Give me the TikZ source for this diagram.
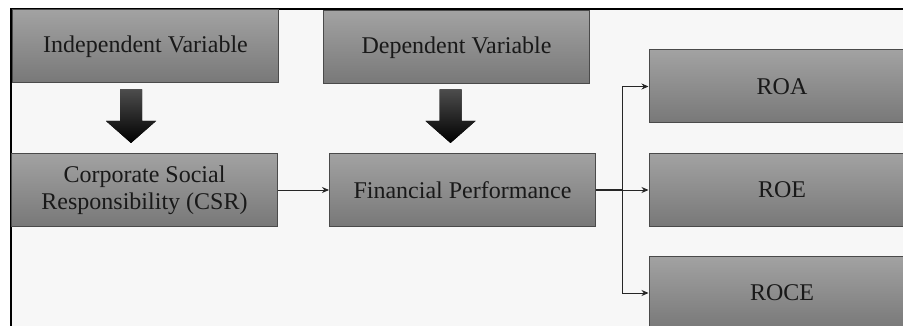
\documentclass[tikz,border=0pt]{standalone}
\usepackage{fontspec}
\setmainfont{Liberation Serif}
\usepackage{xcolor}
\usepackage{tikz}
\usetikzlibrary{arrows.meta,calc}

\definecolor{boxtop}{HTML}{A2A2A2}
\definecolor{boxbot}{HTML}{787878}
\definecolor{boxline}{HTML}{4A4A4A}
\definecolor{pagebg}{HTML}{F7F7F7}

% block arrow: #1 top of the shaft, #2 tip
\newcommand{\bigdown}[2]{%
  \fill[bigarrow] ([xshift=-11pt]#1) -- ([xshift=11pt]#1)
    -- ([xshift=11pt,yshift=22pt]#2) -- ([xshift=25pt,yshift=22pt]#2)
    -- (#2) -- ([xshift=-25pt,yshift=22pt]#2)
    -- ([xshift=-11pt,yshift=22pt]#2) -- cycle;}

\begin{document}
\begin{tikzpicture}[x=1pt,y=-1pt,
		varbox/.style={draw=boxline, line width=1pt, top color=boxtop, bottom color=boxbot,
			minimum width=266pt, minimum height=73pt, inner sep=0pt, align=center,
			font=\fontsize{24}{27}\selectfont, text=black!90},
		link/.style={-{Stealth[length=7pt,width=6pt]}, line width=0.9pt, draw=black!85},
		bigarrow/.style={top color=black!70, bottom color=black}]
		\useasboundingbox (0,0) rectangle (903,326);
		\clip (0,0) rectangle (903,326);
		\fill[white] (0,0) rectangle (903,326);
		\fill[pagebg] (11,9) rectangle (903,326);
		\draw[line width=1.5pt] (11,326) -- (11,9) -- (903,9);
		%
		\node[varbox] (indep) at (145.5,46.5) {Independent Variable};
		\node[varbox] (dep) at (456.5,47.5) {Dependent Variable};
		\node[varbox] (csr) at (144.5,190) {Corporate Social\\Responsibility (CSR)};
		\node[varbox] (fin) at (462.5,190) {Financial Performance};
		\node[varbox] (roa) at (782,86.5) {ROA};
		\node[varbox] (roe) at (782,190) {ROE};
		\node[varbox] (roce) at (782,293) {ROCE};
		%
		\coordinate (a1) at ($(indep.south)+(-14.5,6)$);
		\coordinate (t1) at ($(csr.north)+(-13.5,-10)$);
		\coordinate (a2) at ($(dep.south)+(-6,5)$);
		\coordinate (t2) at ($(fin.north)+(-12,-10)$);
		\bigdown{a1}{t1}
		\bigdown{a2}{t2}
		%
		\coordinate (split) at ($(fin.east)+(26,0)$);
		\draw[link] (csr) -- (fin);
		\draw[line width=1.4pt, black!85] (fin.east) -- (split);
		\draw[link] (split) -- (roe.west);
		\draw[link] (split) |- (roa.west);
		\draw[link] (split) |- (roce.west);
\end{tikzpicture}
\end{document}
